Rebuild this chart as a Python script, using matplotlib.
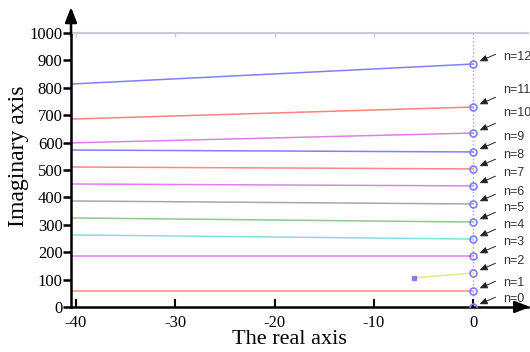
import numpy as np
import matplotlib
matplotlib.use('Agg')
import matplotlib.pyplot as plt

# root loci for each n: value at the left edge and value at x=0
n_labels = ['n=12', 'n=11', 'n=10', 'n=9', 'n=8', 'n=7', 'n=6', 'n=5', 'n=4', 'n=3', 'n=2', 'n=1', 'n=0']
left_vals = [814, 686, 599, 573, 511, 449, 387, 325, 263, 186, 106, 58, None]
right_vals = [887, 730, 635, 566, 504, 442, 376, 310, 248, 186, 124, 58, 0]
start_x = [-40.5, -40.5, -40.5, -40.5, -40.5, -40.5, -40.5, -40.5, -40.5, -40.5, -6.0, -40.5, None]
line_colors = ['#8080ff', '#ff8080', '#dd80e8', '#8080ff', '#ff8888', '#e080ee', '#a8a8a8',
               '#90c890', '#80e0e0', '#e080ee', '#e6e68a', '#ff8888', None]
# y position of each "n=" text
label_y = [912, 792, 708, 620, 555, 489, 420, 361, 299, 237, 168, 88, 29]

xticks = [-40, -30, -20, -10, 0]
yticks = [0, 100, 200, 300, 400, 500, 600, 700, 800, 900, 1000]

plt.rcParams['font.family'] = 'serif'
plt.rcParams['font.serif'] = ['Liberation Serif', 'DejaVu Serif']

fig = plt.figure(figsize=(5.3, 3.52), dpi=100)
ax = fig.add_axes([0.134, 0.128, 0.862, 0.778])

ax.axvline(0, ls=':', color='#a8a8c8', lw=1, zorder=1)

for i in range(len(n_labels)):
	if left_vals[i] is None:
		continue
	ax.plot([start_x[i], 0], [left_vals[i], right_vals[i]], color=line_colors[i], lw=1.1, zorder=2)
	if start_x[i] > -40:
		ax.plot([start_x[i]], [left_vals[i]], marker='s', ms=2.5, color='#8080ff', zorder=3)

ax.plot(np.zeros(len(right_vals)), right_vals, 'o', mfc='none', mec='#7f7fff', ms=5, mew=1.2, zorder=4)

for i, lab in enumerate(n_labels):
	ax.annotate('', xy=(0, right_vals[i]), xytext=(16, 7), textcoords='offset points',
				arrowprops=dict(arrowstyle='-|>,head_length=0.45,head_width=0.2', color='#222222',
								lw=0.7, shrinkA=0, shrinkB=5))
	ax.text(3.0, label_y[i], lab, fontsize=9, family='Liberation Sans', color='#333333',
			ha='left', va='center')

ax.set_xlim(-40.5, 5.5)
ax.set_ylim(0, 1000)
ax.set_xticks(xticks)
ax.set_yticks(yticks)
ax.set_xticklabels([str(v) for v in xticks])
ax.set_yticklabels([str(v) for v in yticks])

ax.spines['right'].set_visible(False)
ax.spines['top'].set_color('#c8c8d8')
ax.spines['top'].set_linewidth(1.5)
ax.spines['left'].set_linewidth(1.8)
ax.spines['bottom'].set_linewidth(1.8)

ax.tick_params(axis='x', direction='in', length=6, width=1.5, labelsize=12, pad=6)
ax.tick_params(axis='y', direction='out', length=6, width=1.8, labelsize=12, pad=0)

# faint ticks on the top frame line
top = ax.secondary_xaxis('top')
top.set_xticks(xticks[:-1])
top.tick_params(direction='in', length=3, width=1, color='#c8c8d8', labeltop=False)
top.spines['top'].set_visible(False)

# arrow heads on the axes
ax.annotate('', xy=(1.005, 0), xytext=(0.97, 0), xycoords='axes fraction',
			arrowprops=dict(arrowstyle='-|>,head_length=0.9,head_width=0.35', color='k', lw=1.8,
							shrinkA=0, shrinkB=0))
ax.annotate('', xy=(0, 1.095), xytext=(0, 0.99), xycoords='axes fraction',
			arrowprops=dict(arrowstyle='-|>,head_length=0.9,head_width=0.35', color='k', lw=1.8,
							shrinkA=0, shrinkB=0))

fig.text(0.547, 0.035, 'The real axis', fontsize=16, ha='center', va='center')
fig.text(0.034, 0.555, 'Imaginary axis', fontsize=17, rotation=90, ha='center', va='center')

fig.savefig('out.png', dpi=100)
